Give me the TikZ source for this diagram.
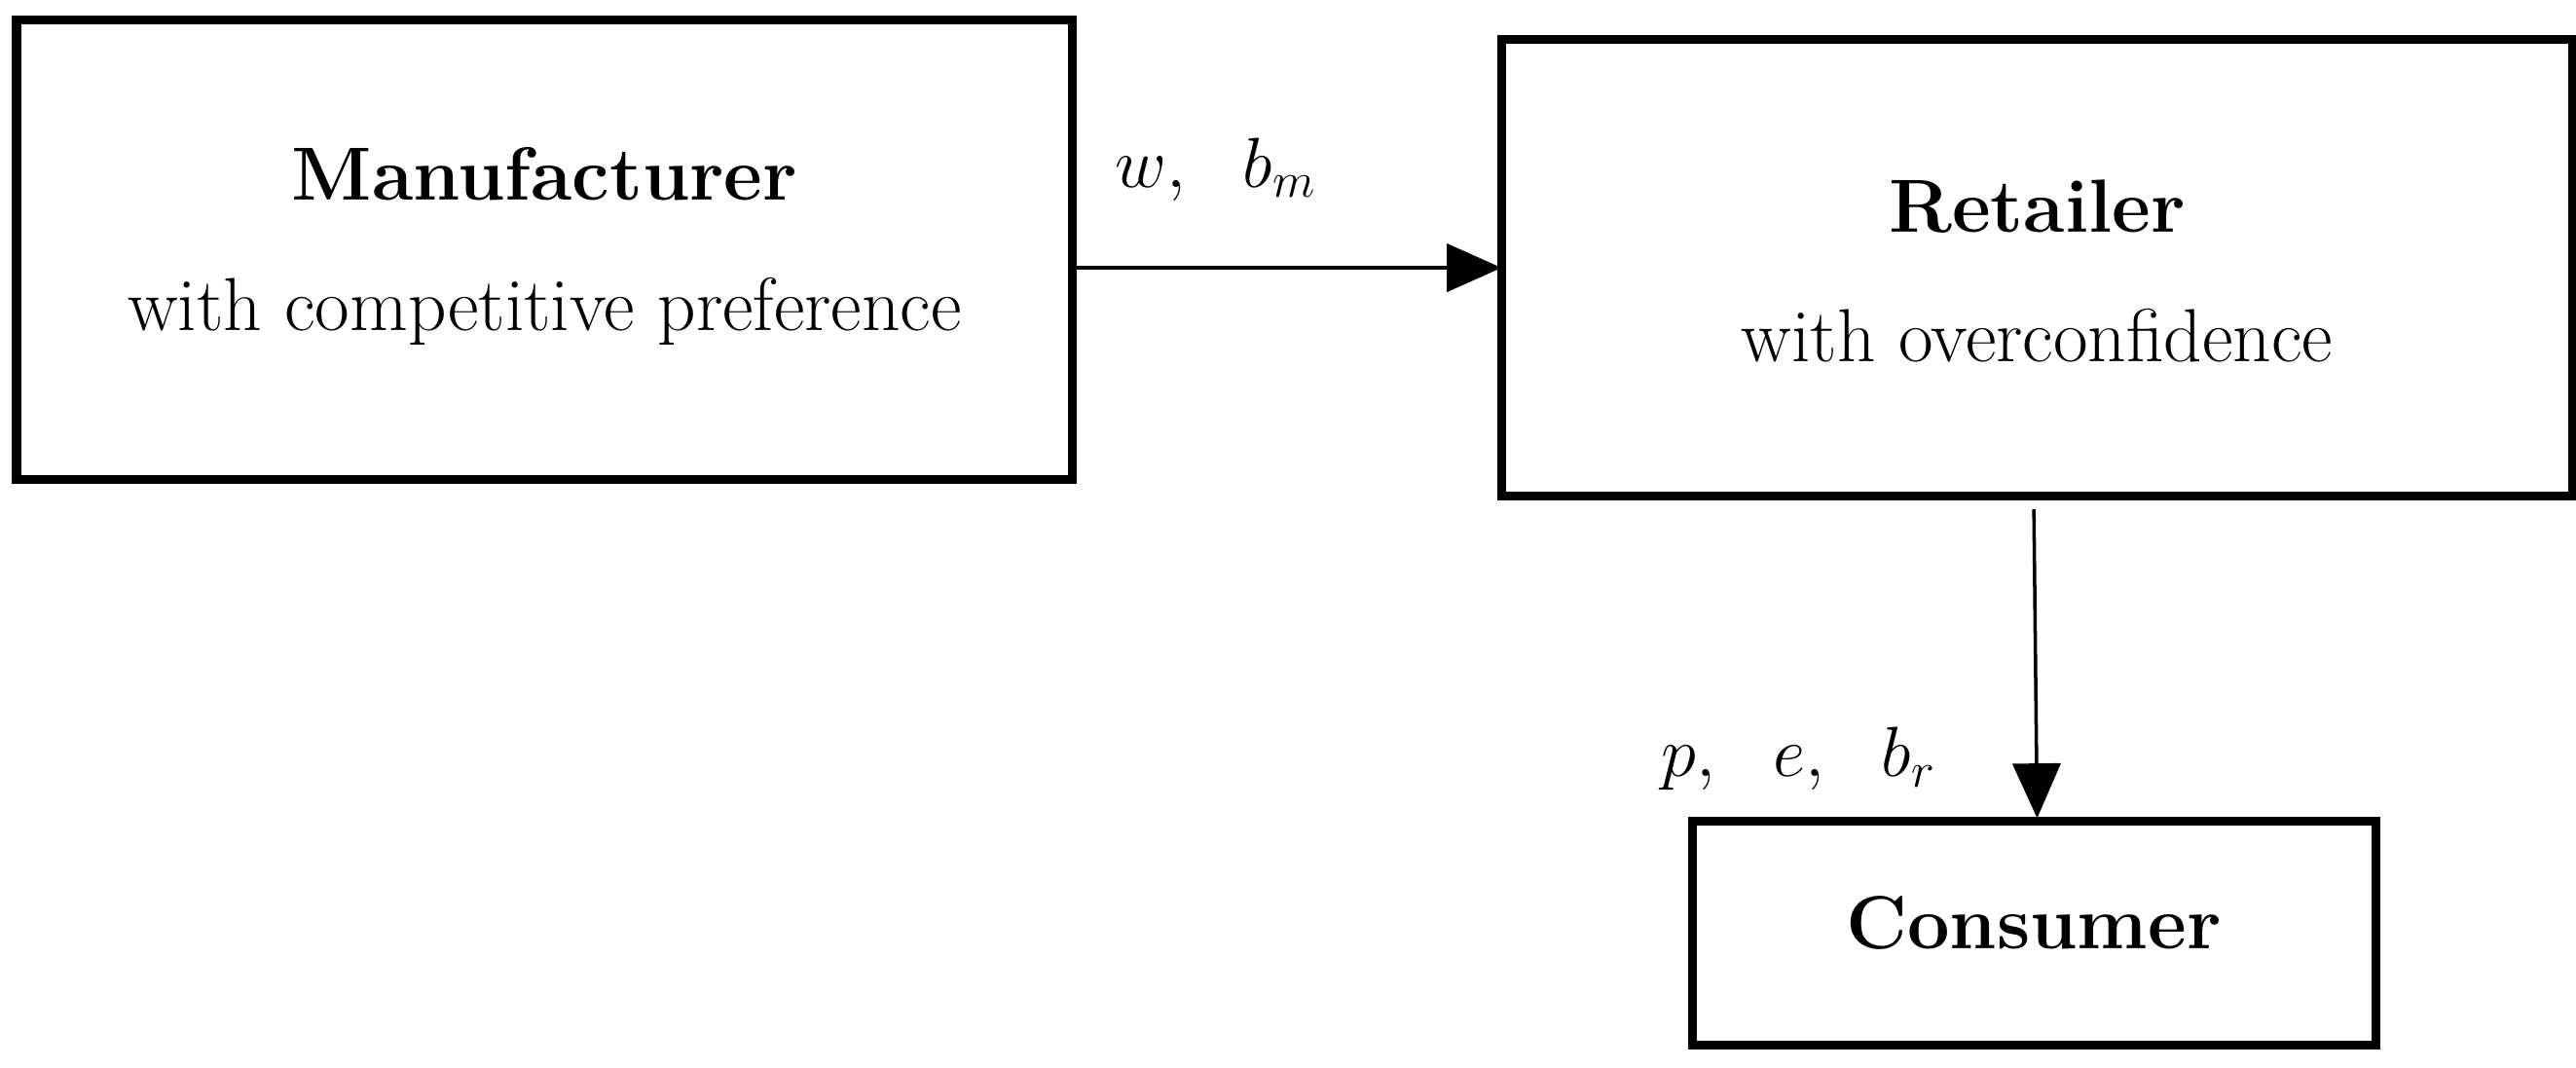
\documentclass[tikz,border=0pt]{standalone}
\usetikzlibrary{arrows.meta}
\begin{document}
\begin{tikzpicture}[x=0.016875cm,y=-0.016875cm,
  box/.style={draw,line width=2.6pt,inner sep=0pt},
  txt/.style={font=\fontsize{22}{38}\selectfont,align=center},
  arr/.style={line width=1pt,-{Triangle[length=16pt,width=14pt]}}]
\useasboundingbox (0,0) rectangle (1568,650);
\node[box,minimum width=10.85cm,minimum height=4.725cm] (m) at (331.5,152) {};
\node[box,minimum width=11.0cm,minimum height=4.69cm] (r) at (1240,163) {};
\node[box,minimum width=7.02cm,minimum height=2.3cm] (c) at (1238,568) {};
\node[txt] (mt) at (331.5,150) {\textbf{Manufacturer}\\with competitive preference};
\node[txt] (rt) at (1240,165) {\textbf{Retailer}\\with overconfidence};
\node[txt] (ct) at (1238,562) {\textbf{Consumer}};
\coordinate (ce) at (1240,498);
\coordinate (a1) at (653,163);
\coordinate (a2) at (914,163);
\coordinate (b1) at (1238,310);
\draw[arr] (a1) -- (a2);
\draw[arr] (b1) -- (ce);
\node[txt] (l1) at (740,103) {$w,\ \ b_m$};
\node[txt] (l2) at (1095,462) {$p,\ \ e,\ \ b_r$};
\end{tikzpicture}
\end{document}
